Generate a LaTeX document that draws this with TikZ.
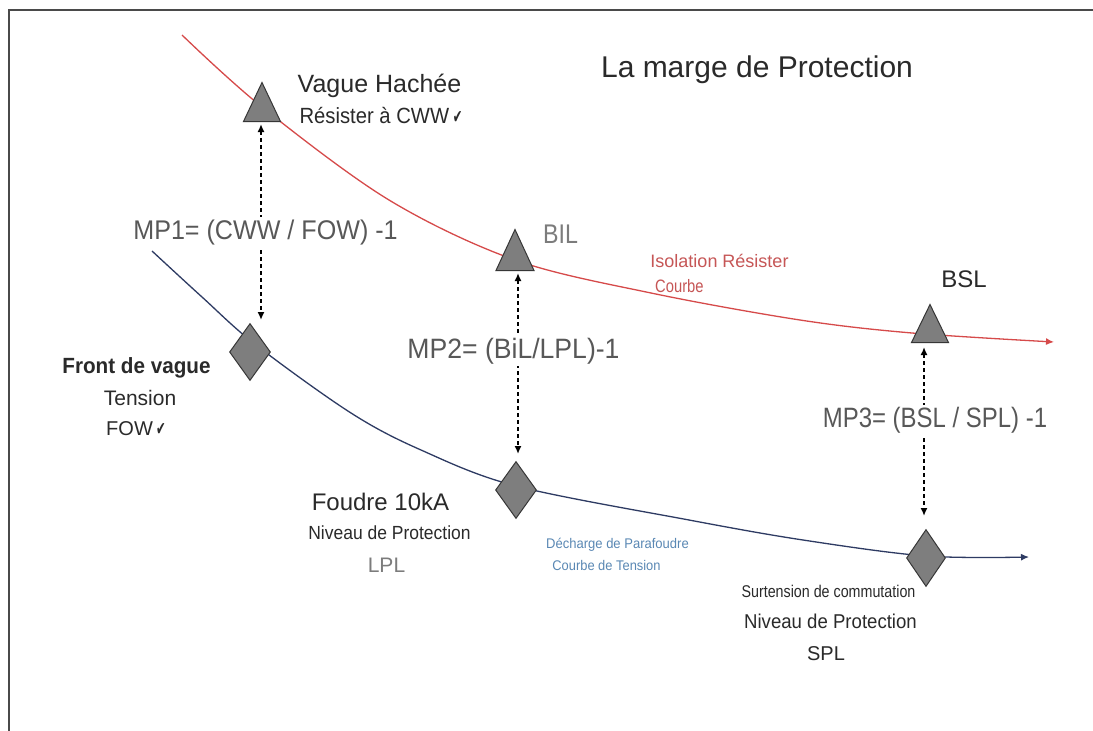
\documentclass[tikz,border=0pt]{standalone}
\usepackage{fontspec}
\setmainfont{Liberation Sans}
\newfontfamily\symf{DejaVu Sans}
\usepackage{graphicx}
\usetikzlibrary{shapes.geometric,arrows.meta}
\definecolor{redc}{HTML}{D64A4A}
\definecolor{bluec}{HTML}{2E3B63}
\definecolor{shapegray}{HTML}{7E7E7E}
\definecolor{shapeborder}{HTML}{363636}
\definecolor{framec}{HTML}{4A4A4A}
\definecolor{mpc}{HTML}{585858}
\definecolor{txtc}{HTML}{2A2A2A}
\definecolor{lightc}{HTML}{7C7C7C}
\definecolor{redtxt}{HTML}{C65656}
\definecolor{bluetxt}{HTML}{5A88B4}
\newcommand\hs[2]{\scalebox{#1}[1]{#2}}
\newcommand\fs[1]{\fontsize{#1}{#1}\selectfont}
\newcommand\chk{{\symf\bfseries\fs{19}\hs{0.6}{✔}}}
\begin{document}
\begin{tikzpicture}[x=1pt,y=-1pt,
  lbl/.style={inner sep=0pt, anchor=base},
  tri/.style={isosceles triangle, isosceles triangle stretches, shape border rotate=90,
    fill=shapegray, draw=shapeborder, line width=1pt, inner sep=0pt, anchor=lower side},
  dia/.style={diamond, fill=shapegray, draw=shapeborder, line width=1pt, inner sep=0pt,
    minimum width=41pt, minimum height=57pt},
  dasharrow/.style={line width=1.6pt, black, dash pattern=on 4pt off 3pt,
    {Latex[length=8pt,width=7pt]}-{Latex[length=8pt,width=7pt]}},
  curve/.style={line width=1.3pt, -{Latex[length=8pt,width=7pt]}},
  mp/.style={lbl, fill=white, inner sep=2pt, text=mpc}
]
\useasboundingbox (0,0) rectangle (1093,731);
\fill[white] (0,0) rectangle (1093,731);
\draw[line width=2pt, framec] (1093,9.5) -- (8.8,9.5) -- (8.8,731);

% curves
\draw[curve, redc] plot[smooth, tension=0.55] coordinates
  {(182,35) (262,107) (389,200) (515,260) (651,293) (800,320) (912,333) (1054,342)};
\draw[curve, bluec] plot[smooth, tension=0.55] coordinates
  {(152,251) (202,297) (256,345) (351,413) (421,450) (516,486) (689,520) (803,540) (926,556) (1029,557)};

% shapes
\node[tri, minimum width=37pt, minimum height=39pt] (t1) at (262,122) {};
\node[tri, minimum width=38pt, minimum height=41pt] (t2) at (515,271) {};
\node[tri, minimum width=37pt, minimum height=38pt] (t3) at (930,343) {};
\node[dia] (d1) at (250,352) {};
\node[dia] (d2) at (516,490) {};
\node[dia, minimum width=39pt] (d3) at (926,558) {};

% dashed double arrows
\draw[dasharrow] ([xshift=-1pt,yshift=-2pt]t1.lower side) -- ([xshift=-1pt,yshift=3pt]t1.lower side |- d1.north);
\draw[dasharrow] ([xshift=3pt,yshift=-2pt]t2.lower side) -- ([xshift=3pt,yshift=7pt]t2.lower side |- d2.north);
\draw[dasharrow] ([xshift=-6pt,yshift=-4pt]t3.lower side) -- ([xshift=-6pt,yshift=13pt]t3.lower side |- d3.north);

% texts
\node[lbl, font=\fs{30}, text=txtc] (title) at (757,77) {La marge de Protection};
\node[lbl, font=\fs{25}, text=txtc] (vh) at (379.5,92) {Vague Hachée};
\node[lbl, font=\fs{22}, text=txtc] (rcww) at (381,123) {\hs{0.92}{Résister à CWW}\,\chk};
\node[mp, font=\fs{27}] (mp1) at (265.5,239) {\hs{0.93}{MP1= (CWW / FOW) -1}};
\node[lbl, font=\fs{27}, text=lightc] (bil) at (560.5,243) {\hs{0.86}{BIL}};
\node[lbl, font=\fs{18}, text=redtxt] (iso1) at (719.5,267) {Isolation Résister};
\node[lbl, font=\fs{18}, text=redtxt, anchor=base west] (iso2) at (655,292) {\hs{0.82}{Courbe}};
\node[lbl, font=\fs{24}, text=txtc] (bsl) at (964,287) {BSL};
\node[mp, font=\fs{28}] (mp2) at (513.5,358) {\hs{0.95}{MP2= (BiL/LPL)-1}};
\node[mp, font=\fs{28}] (mp3) at (935,427) {\hs{0.855}{MP3= (BSL / SPL) -1}};
\node[lbl, font=\fs{22}\bfseries, text=txtc] (fdv) at (136.5,373) {\hs{0.94}{Front de vague}};
\node[lbl, font=\fs{21}, text=txtc] (tens) at (140,405) {Tension};
\node[lbl, font=\fs{20}, text=txtc] (fow) at (136,435) {FOW\,\chk};
\node[lbl, font=\fs{24}, text=txtc] (fou) at (380.5,510) {Foudre 10kA};
\node[lbl, font=\fs{19}, text=txtc] (ndp1) at (389.5,539) {\hs{0.92}{Niveau de Protection}};
\node[lbl, font=\fs{21}, text=lightc] (lpl) at (386.5,572) {LPL};
\node[lbl, font=\fs{14}, text=bluetxt] (dec1) at (617.5,548) {\hs{0.93}{Décharge de Parafoudre}};
\node[lbl, font=\fs{14}, text=bluetxt] (dec2) at (606.5,570) {\hs{0.92}{Courbe de Tension}};
\node[lbl, font=\fs{17}, text=txtc] (sur) at (828.5,597) {\hs{0.84}{Surtension de commutation}};
\node[lbl, font=\fs{20}, text=txtc] (ndp2) at (830.5,628) {\hs{0.93}{Niveau de Protection}};
\node[lbl, font=\fs{20}, text=txtc] (spl) at (826,660) {SPL};
\end{tikzpicture}
\end{document}
